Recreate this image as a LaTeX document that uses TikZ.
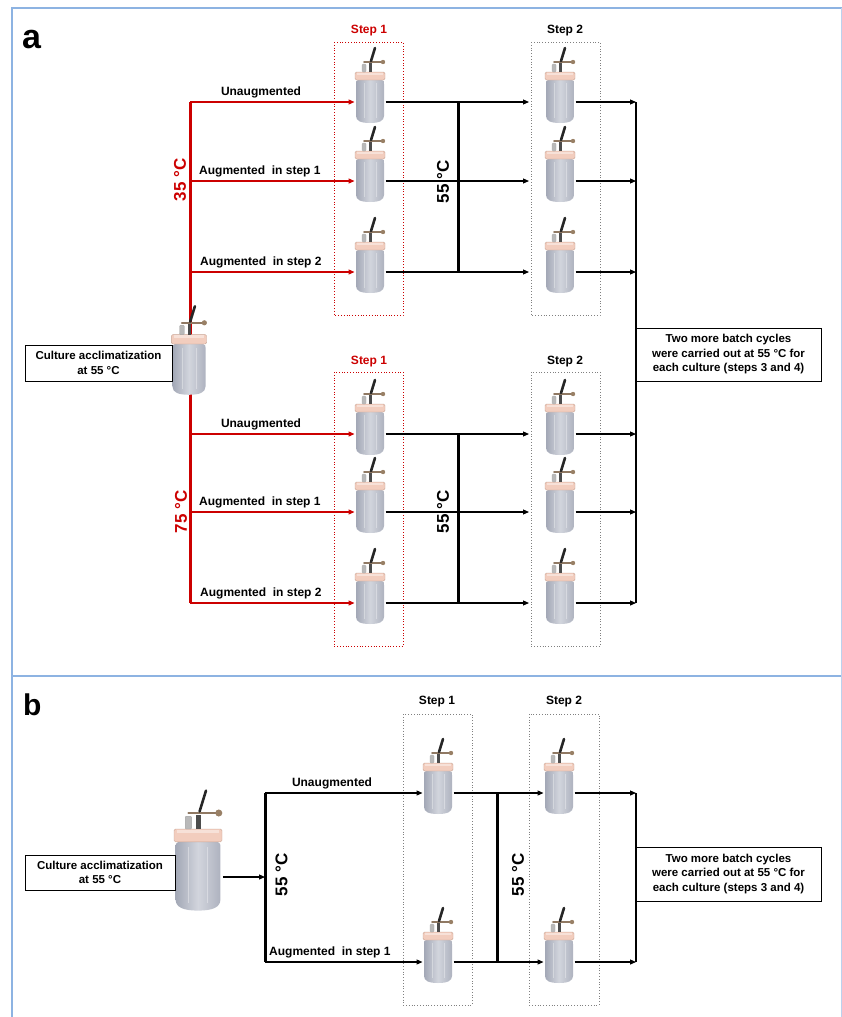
\documentclass[tikz,border=0pt]{standalone}
\usepackage{fontspec}
\setmainfont{Liberation Sans}
\usetikzlibrary{arrows.meta}
\definecolor{redc}{HTML}{CC0000}
\definecolor{framec}{HTML}{8DB3E2}
\definecolor{capc}{HTML}{F2CDBE}
\definecolor{capd}{HTML}{C9A595}
\definecolor{bodyl}{HTML}{A3A8B6}
\definecolor{bodym}{HTML}{D2D5DD}
\definecolor{bodyr}{HTML}{AEB2BF}
\definecolor{dotgray}{HTML}{808080}
\tikzset{
  bottle/.pic={
    \shade[left color=bodyl, right color=bodyr, middle color=bodym]
      (-12,-22) .. controls (-14,-21) .. (-14,-18) -- (-14,14) .. controls (-14,19) and (-9,21) .. (0,21)
      .. controls (9,21) and (14,19) .. (14,14) -- (14,-18) .. controls (14,-21) .. (12,-22) -- cycle;
    \draw[white, opacity=.35, line width=.6pt] (-6,-19) -- (-6,16) (6,-19) -- (6,16);
    \fill[capc, draw=capd, line width=.4pt, rounded corners=1.5] (-15,-30) rectangle (15,-22);
    \fill[white, opacity=.4] (-13,-29.5) rectangle (13,-27.5);
    \fill[gray!55, draw=gray!70, line width=.3pt, rounded corners=1] (-8,-38) rectangle (-4,-30);
    \fill[black!70] (-1.2,-39) rectangle (1.8,-30);
    \draw[line width=2pt, brown!50!black!70, line cap=round] (-6,-40) -- (11,-40);
    \fill[brown!40!gray] (13,-40) circle (2.2);
    \draw[line width=2.6pt, black!85, line cap=round] (1,-41) -- (5,-54);
  },
  bnode/.style={minimum width=28pt, minimum height=40pt, inner sep=0pt, outer sep=1.5pt},
  tip/.style={-{Triangle[length=6pt,width=5pt]}},
  redline/.style={redc, line width=1.2pt, tip},
  blkline/.style={black, line width=1.1pt},
  thickred/.style={redc, line width=3pt},
  thickblk/.style={black, line width=3pt},
  lab/.style={inner sep=0pt, font=\bfseries\fontsize{12}{14}\selectfont},
  temp/.style={inner sep=0pt, rotate=90, font=\bfseries\fontsize{17}{20}\selectfont},
  txtbox/.style={draw, line width=1pt, inner sep=0pt, align=center, font=\bfseries\fontsize{11.5}{14.5}\selectfont},
  redbox/.style={draw=redc, dotted, line width=.8pt},
  graybox/.style={draw=dotgray, dotted, line width=.8pt},
  frame/.style={framec, line width=1.2pt}
}
\begin{document}
\begin{tikzpicture}[x=1pt,y=-1pt]
\useasboundingbox (0,0) rectangle (842,1017);
% frame
\draw[frame] (12,1017) -- (12,8) -- (842,8);
\draw[frame] (12,676) -- (842,676);
\draw[framec!60, line width=.8pt] (841,8) -- (841,1017);

% ================= panel a =================
\node[anchor=base west, inner sep=0pt, font=\bfseries\fontsize{34}{34}\selectfont] (la) at (22,48) {a};

\draw[redbox] (334,42) rectangle (403,315);
\draw[redbox] (334,372) rectangle (403,646);
\draw[graybox] (531,42) rectangle (600,315);
\draw[graybox] (531,372) rectangle (600,646);
\node[lab, text=redc] (s1ta) at (369,31) {Step 1};
\node[lab] (s2ta) at (565,31) {Step 2};
\node[lab, text=redc] (s1tb) at (369,362) {Step 1};
\node[lab] (s2tb) at (565,362) {Step 2};

\foreach \n/\yy in {1/102,2/181,3/272,4/434,5/512,6/603}{
  \coordinate (r\n) at (190,\yy);
  \coordinate (m\n) at (458,\yy);
  \coordinate (t\n) at (529,\yy);
  \coordinate (c\n) at (636,\yy);
  \node[bnode] (p\n) at (370,\yy) {};
  \node[bnode] (q\n) at (560,\yy) {};
}
% red trunk with central bottle
\draw[thickred] (r1) -- (r6);
\node[bnode, scale=1.18] (ca) at (189,370) {};
\pic[scale=1.18] at (ca) {bottle};
\node[txtbox, minimum width=147pt, minimum height=36pt] (cula) at (98.5,363) {Culture acclimatization\\at 55 °C};

\foreach \n in {1,...,6}{
  \draw[redline] (r\n) -- (p\n.west);
  \draw[blkline, tip] (p\n.east) -- (t\n);
  \draw[blkline, tip] (q\n.east) -- (c\n);
  \pic at (p\n) {bottle};
  \pic at (q\n) {bottle};
}
\draw[thickblk] (m1) -- (m3);
\draw[thickblk] (m4) -- (m6);
\draw[black, line width=1.3pt] (c1) -- (c6);

\node[lab, anchor=base] (u1) at (261,95) {Unaugmented};
\node[lab, anchor=base west] (u2) at (199,174) {Augmented\ \ in step 1};
\node[lab, anchor=base west] (u3) at (200,265) {Augmented\ \ in step 2};
\node[lab, anchor=base] (u4) at (261,427) {Unaugmented};
\node[lab, anchor=base west] (u5) at (199,505) {Augmented\ \ in step 1};
\node[lab, anchor=base west] (u6) at (200,596) {Augmented\ \ in step 2};

\node[temp, text=redc] (t35) at (180,180) {35 °C};
\node[temp, text=redc] (t75) at (181,512) {75 °C};
\node[temp] (t55a) at (443,182) {55 °C};
\node[temp] (t55b) at (443,512) {55 °C};

\node[txtbox, minimum width=185pt, minimum height=53pt] (morea) at (728.5,354.5)
  {Two more batch cycles\\were carried out at 55 °C for\\each culture (steps 3 and 4)};

% ================= panel b =================
\node[anchor=base west, inner sep=0pt, font=\bfseries\fontsize{30}{30}\selectfont] (lb) at (23,715) {b};

\draw[graybox] (403,714) rectangle (472,1005);
\draw[graybox] (529,714) rectangle (599,1005);
\node[lab] (b1t) at (437,702) {Step 1};
\node[lab] (b2t) at (564,702) {Step 2};

\node[bnode, scale=1.6] (cb) at (198,877) {};
\pic[scale=1.6] at (cb) {bottle};
\node[txtbox, minimum width=150pt, minimum height=35pt] (culb) at (100,872.5) {Culture acclimatization\\at 55 °C};
\coordinate (jb) at (265,877);
\draw[blkline, tip] (cb.east) -- (jb);

\foreach \n/\yy in {1/793,2/962}{
  \coordinate (br\n) at (265,\yy);
  \coordinate (bm\n) at (497,\yy);
  \coordinate (bc\n) at (636,\yy);
  \node[bnode] (bp\n) at (438,\yy) {};
  \node[bnode] (bq\n) at (559,\yy) {};
  \draw[blkline, tip] (br\n) -- (bp\n.west);
  \draw[blkline, tip] (bp\n.east) -- (bq\n.west);
  \draw[blkline, tip] (bq\n.east) -- (bc\n);
  \pic at (bp\n) {bottle};
  \pic at (bq\n) {bottle};
}
\draw[thickblk] (br1) -- (br2);
\draw[thickblk] (bm1) -- (bm2);
\draw[black, line width=1.3pt] (bc1) -- (bc2);

\node[lab, anchor=base] (bu1) at (332,786) {Unaugmented};
\node[lab, anchor=base west] (bu2) at (269,955) {Augmented\ \ in step 1};
\node[temp] (bt1) at (281.5,875) {55 °C};
\node[temp] (bt2) at (518,875) {55 °C};

\node[txtbox, minimum width=185pt, minimum height=54pt] (moreb) at (728.5,874)
  {Two more batch cycles\\were carried out at 55 °C for\\each culture (steps 3 and 4)};
\end{tikzpicture}
\end{document}
